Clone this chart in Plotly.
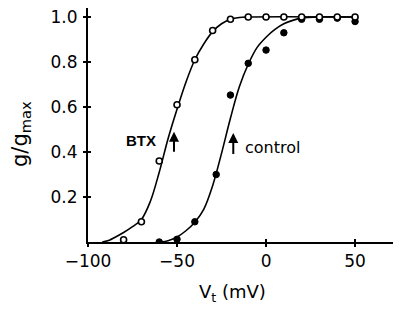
import plotly.graph_objects as go

# Data points (voltage in mV, normalized conductance)
btx_v = [-80, -70, -60, -50, -40, -30, -20, -10, 0, 10, 20, 30, 40, 50]
btx_g = [0.01, 0.09, 0.36, 0.61, 0.81, 0.94, 0.99, 1.0, 1.0, 1.0, 1.0, 1.0, 1.0, 1.0]

ctl_v = [-60, -50, -40, -28, -20, -10, 0, 10, 20, 30, 40, 50]
ctl_g = [0.0, 0.012, 0.09, 0.30, 0.653, 0.794, 0.853, 0.93, 0.99, 0.99, 0.995, 0.98]

# Fitted curves
btx_fit_v = [-92, -88, -85, -80, -75, -70, -65, -60, -55, -50, -45, -40, -35, -30,
             -25, -20, -15, -10, 50]
btx_fit_g = [0.0, 0.008, 0.02, 0.042, 0.068, 0.1, 0.18, 0.31, 0.46, 0.59, 0.71, 0.81,
             0.88, 0.935, 0.97, 0.99, 0.998, 1.0, 1.0]

ctl_fit_v = [-59, -55, -50, -45, -40, -35, -30, -25, -20, -15, -10, -5, 0, 5, 10, 15,
             20, 30, 50]
ctl_fit_g = [0.0, 0.006, 0.022, 0.05, 0.088, 0.145, 0.25, 0.394, 0.55, 0.69, 0.79,
             0.865, 0.91, 0.945, 0.97, 0.985, 0.995, 1.0, 1.0]

x_ticks = [-100, -50, 0, 50]
y_ticks = [0.2, 0.4, 0.6, 0.8, 1.0]
y_ticktext = ["0.2", "0.4", "0.6", "0.8", "1.0"]

X_RANGE = [-100, 75.8]
Y_RANGE = [0, 1.04]

fig = go.Figure()

fig.add_trace(go.Scatter(x=btx_fit_v, y=btx_fit_g, mode="lines",
                         line=dict(color="black", width=1.6, shape="spline",
                                   smoothing=1.0),
                         showlegend=False, hoverinfo="skip"))
fig.add_trace(go.Scatter(x=ctl_fit_v, y=ctl_fit_g, mode="lines",
                         line=dict(color="black", width=1.6, shape="spline",
                                   smoothing=1.0),
                         showlegend=False, hoverinfo="skip"))
fig.add_trace(go.Scatter(x=ctl_v, y=ctl_g, mode="markers",
                         marker=dict(symbol="circle", size=6.5, color="black",
                                     line=dict(color="black", width=1)),
                         showlegend=False))
fig.add_trace(go.Scatter(x=btx_v, y=btx_g, mode="markers",
                         marker=dict(symbol="circle", size=6, color="white",
                                     line=dict(color="black", width=1.6)),
                         showlegend=False))
# invisible trace to host the overlay axes (inside tick halves)
fig.add_trace(go.Scatter(x=[X_RANGE[0]], y=[Y_RANGE[0]], xaxis="x2", yaxis="y2",
                         mode="markers", marker=dict(opacity=0), showlegend=False,
                         hoverinfo="skip"))

tickfont = dict(family="DejaVu Sans", size=17, color="black")

fig.update_layout(
    width=393, height=303,
    margin=dict(l=80, r=0, t=0, b=69),
    paper_bgcolor="white", plot_bgcolor="white",
    font=dict(family="DejaVu Sans", color="black"),
    xaxis=dict(range=X_RANGE, tickvals=x_ticks, ticks="outside", ticklen=3,
               tickwidth=1.5, tickcolor="black", showline=True, linecolor="black",
               linewidth=2, showgrid=False, zeroline=False, tickfont=tickfont,
               fixedrange=True, automargin=False, ticklabeloverflow="allow"),
    yaxis=dict(range=Y_RANGE, tickvals=y_ticks, ticktext=y_ticktext, ticks="outside",
               ticklen=3, tickwidth=1.5, tickcolor="black", showline=True,
               linecolor="black", linewidth=2, showgrid=False, zeroline=False,
               tickfont=tickfont, fixedrange=True, automargin=False,
               ticklabelstandoff=2, ticklabeloverflow="allow"),
    xaxis2=dict(range=X_RANGE, tickvals=x_ticks, ticks="inside", ticklen=3,
                tickwidth=1.5, tickcolor="black", showticklabels=False,
                showline=False, showgrid=False, zeroline=False, overlaying="x",
                anchor="y", side="bottom", fixedrange=True),
    yaxis2=dict(range=Y_RANGE, tickvals=y_ticks, ticks="inside", ticklen=3,
                tickwidth=1.5, tickcolor="black", showticklabels=False,
                showline=False, showgrid=False, zeroline=False, overlaying="y",
                anchor="x", side="left", fixedrange=True),
)

# arrows marking half-activation
fig.add_annotation(x=-51.7, y=0.49, ax=-51.7, ay=0.395, xref="x", yref="y",
                   axref="x", ayref="y", showarrow=True, arrowhead=2, arrowsize=1,
                   arrowwidth=2, arrowcolor="black", text="")
fig.add_annotation(x=-18.4, y=0.485, ax=-18.4, ay=0.385, xref="x", yref="y",
                   axref="x", ayref="y", showarrow=True, arrowhead=2, arrowsize=1,
                   arrowwidth=2, arrowcolor="black", text="")

fig.add_annotation(x=-70, y=0.453, text="<b>BTX</b>", showarrow=False,
                   font=dict(family="Liberation Sans", size=15, color="black"))
fig.add_annotation(x=3.5, y=0.42, text="control", showarrow=False,
                   font=dict(family="DejaVu Sans", size=16, color="black"))

fig.add_annotation(x=0.462, y=-0.218, xref="paper", yref="paper",
                   xanchor="center", yanchor="middle",
                   text="V<sub>t</sub> (mV)", showarrow=False,
                   font=dict(family="DejaVu Sans", size=18, color="black"))
fig.add_annotation(x=-0.214, y=0.4615, xref="paper", yref="paper",
                   xanchor="center", yanchor="middle",
                   text="g/g<sub>max</sub>", textangle=-90, showarrow=False,
                   font=dict(family="DejaVu Sans", size=21, color="black"))

fig.write_html("out.html")
